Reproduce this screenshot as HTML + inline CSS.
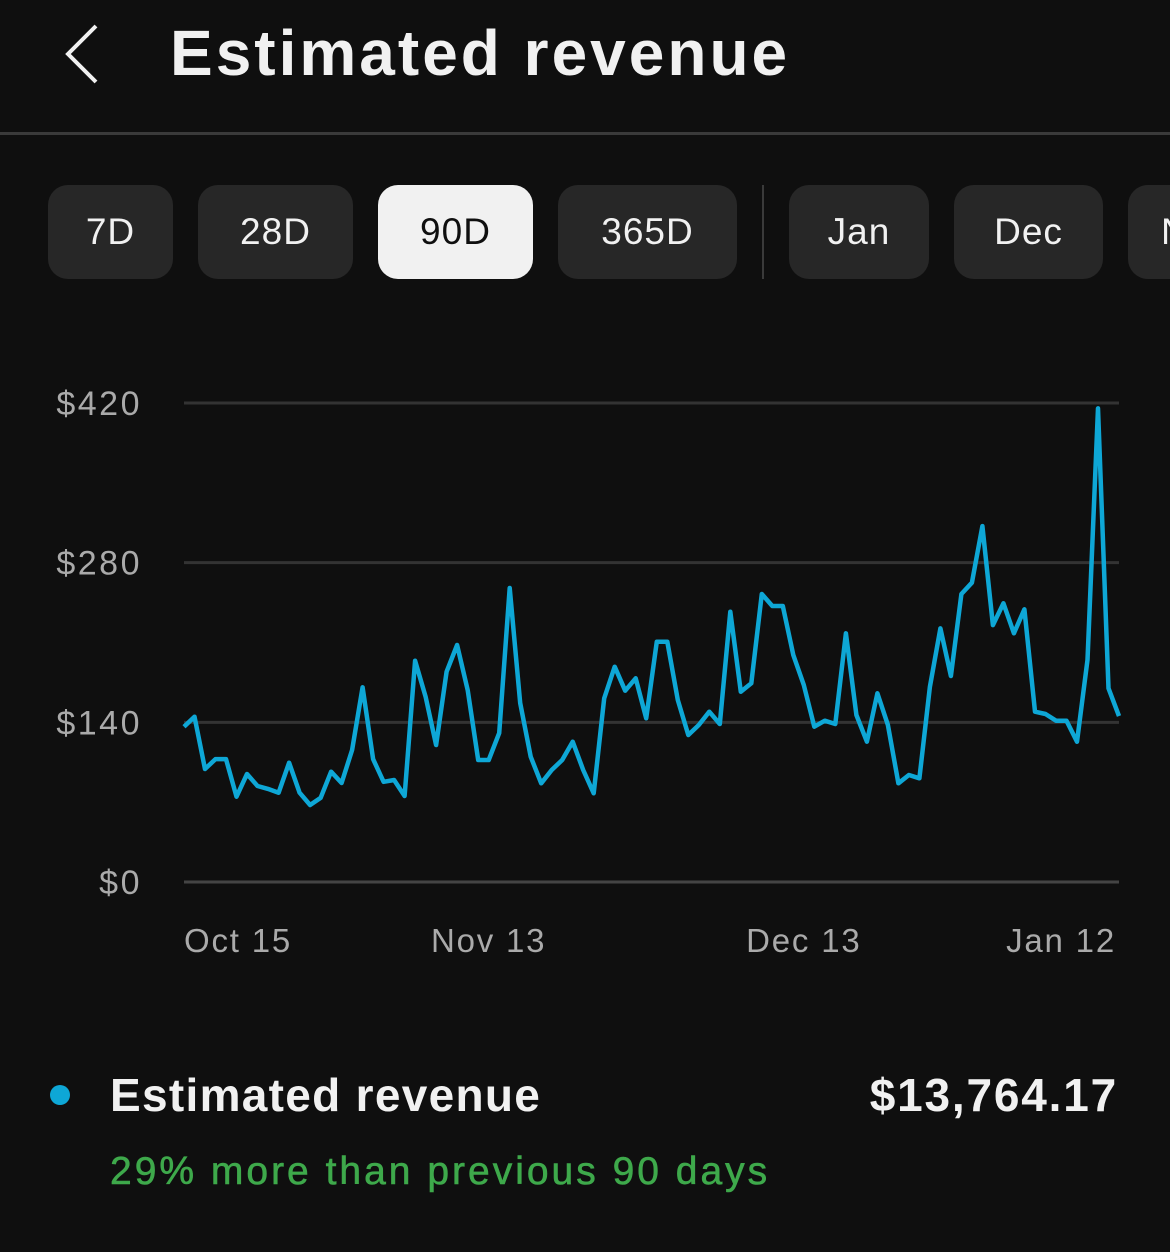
<!DOCTYPE html>
<html><head><meta charset="utf-8">
<style>
body{margin:0;width:1170px;height:1252px;background:#0f0f0f;overflow:hidden;font-family:"Liberation Sans",sans-serif;color:#f1f1f1;position:relative}
.abs{position:absolute}
.pill{position:absolute;top:185px;height:94px;border-radius:20px;background:#272727;color:#f1f1f1;font-size:37px;letter-spacing:1px;display:flex;align-items:center;justify-content:center}
</style></head><body>
<svg class="abs" style="left:60px;top:22px" width="50" height="64"><polyline points="36,4 8,32 36,60" fill="none" stroke="#f1f1f1" stroke-width="4"/></svg>
<div class="abs" style="left:170px;top:16px;font-size:64px;font-weight:bold;letter-spacing:3px">Estimated revenue</div>
<div class="abs" style="left:0;top:132px;width:1170px;height:3px;background:#3a3a3a"></div>
<div class="pill" style="left:48px;width:125px">7D</div>
<div class="pill" style="left:198px;width:155px">28D</div>
<div class="pill" style="left:378px;width:155px;background:#f1f1f1;color:#0f0f0f">90D</div>
<div class="pill" style="left:558px;width:179px">365D</div>
<div class="abs" style="left:762px;top:185px;width:2px;height:94px;background:#3a3a3a"></div>
<div class="pill" style="left:789px;width:140px">Jan</div>
<div class="pill" style="left:954px;width:149px">Dec</div>
<div class="pill" style="left:1128px;width:42px;border-radius:20px 0 0 20px;overflow:hidden;justify-content:flex-start;padding-left:33px;box-sizing:border-box">N</div>
<svg id="chart" class="abs" style="left:0;top:360px" width="1170" height="620"></svg>
<div class="abs" style="left:50px;top:1085px;width:20px;height:20px;border-radius:50%;background:#0ea7d6"></div>
<div class="abs" style="left:110px;top:1068px;font-size:46px;font-weight:bold;letter-spacing:1.3px">Estimated revenue</div>
<div class="abs" style="right:52px;top:1068px;font-size:46px;font-weight:bold;letter-spacing:1.8px">$13,764.17</div>
<div class="abs" style="left:110px;top:1150px;font-size:39px;color:#3ea94b;letter-spacing:3px;-webkit-text-stroke:0.6px #3ea94b">29% more than previous 90 days</div>
<script>
const values=[136.2,144.9,99.1,107.8,107.8,74.8,94.7,84.2,81.6,78.3,104.6,78.3,67.5,73.7,96.7,86.8,115.7,170.7,107.8,87.9,89.4,75.4,194,162.5,120.1,184.4,207.8,168.3,107,107,130.6,257.8,
156.9,109.9,86.5,98.2,107,123,98.2,77.8,161.1,188.8,167.7,178.6,143.5,210.7,210.7,159.6,128.9,137.7,149.3,138.5,237,166.9,174.2,252.5,242,242,199,172.7,136.2,141.4,
138.5,218.1,146.4,123,165.5,137.7,86.5,93.8,90.9,171.2,222.4,180.6,252.5,262.4,312.1,225.3,244.4,218.1,239.1,149.3,147.3,141.4,141.4,123,194.7,415.3,169.8,145.5];
const yTicks=[0,140,280,420];
const yTickLabels=["$0","$140","$280","$420"];
const xTickIdx=[0,29,59,89];
const xTickLabels=["Oct 15","Nov 13","Dec 13","Jan 12"];
const svg=document.getElementById('chart');const NS='http://www.w3.org/2000/svg';
const x0=184,x1=1119,yb=522,yt=43;
const X=i=>x0+(x1-x0)*i/(values.length-1);
const Y=v=>yb-(yb-yt)*v/420;
yTicks.forEach((t,k)=>{
 const l=document.createElementNS(NS,'line');
 
 
 l.setAttribute('x1',x0);l.setAttribute('x2',x1);l.setAttribute('y1',Y(t));l.setAttribute('y2',Y(t));
 l.setAttribute('stroke',t===0?'#444':'#333');l.setAttribute('stroke-width',3);svg.appendChild(l);
 const tx=document.createElementNS(NS,'text');
 
 
 tx.setAttribute('x',142);tx.setAttribute('y',Y(t)+12);tx.setAttribute('text-anchor','end');
 tx.setAttribute('letter-spacing','2.5');
 tx.setAttribute('fill','#aaa');tx.setAttribute('font-size','34');tx.textContent=yTickLabels[k];svg.appendChild(tx);
});
xTickIdx.forEach((idx,k)=>{
 const tx=document.createElementNS(NS,'text');
 
 
 let a='middle';if(k===0)a='start';if(k===xTickIdx.length-1)a='end';
 tx.setAttribute('x',k===xTickIdx.length-1?X(idx)-3:X(idx));tx.setAttribute('y',592);tx.setAttribute('text-anchor',a);
 tx.setAttribute('letter-spacing','1.8');
 tx.setAttribute('fill','#aaa');tx.setAttribute('font-size','33');tx.textContent=xTickLabels[k];svg.appendChild(tx);
});
const p=document.createElementNS(NS,'polyline');


p.setAttribute('points',values.map((v,i)=>X(i).toFixed(1)+','+Y(v).toFixed(1)).join(' '));
p.setAttribute('fill','none');p.setAttribute('stroke','#0ea7d6');p.setAttribute('stroke-width',4.5);p.setAttribute('stroke-linejoin','round');
svg.appendChild(p);
</script>
</body></html>
